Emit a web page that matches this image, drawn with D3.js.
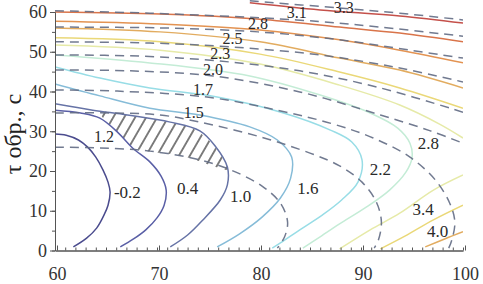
<!DOCTYPE html>
<html><head><meta charset="utf-8">
<script src="https://cdn.jsdelivr.net/npm/d3@7"></script>
<style>body{margin:0;background:#fff}svg{display:block}text{font-family:"Liberation Serif","DejaVu Serif",serif}</style>
</head><body>
<script>
// ---------- data ----------
const xTicks = [60,70,80,90,100];
const yTicks = [0,10,20,30,40,50,60];

// solid contour lines (field 1)
const solidLevels = [-0.2,0.4,1.0,1.6,2.2,2.8,3.4,4.0,4.6,3.4,4.0,4.6,5.2,5.8,6.4];
const sM02 = [[60.0,29.3],[61.1,29.0],[62.3,27.8],[63.2,26.0],[64.0,23.5],[64.7,20.3],[65.2,17.2],[65.4,14.7],[65.2,11.4],[64.8,8.9],[64.1,5.7],[63.1,3.1],[61.8,0.9]];
const s04 = [[60.0,35.3],[62.5,34.6],[64.4,33.3],[66.2,29.6],[67.6,25.8],[69.3,22.3],[70.4,18.7],[70.9,15.2],[70.7,11.4],[70.0,8.2],[68.9,5.2],[67.7,2.9],[66.4,0.9]];
const s10 = [[60.0,36.9],[63.7,35.3],[67.1,34.1],[71.3,32.3],[74.2,30.1],[75.7,26.3],[76.9,21.0],[76.9,16.5],[76.2,12.7],[74.5,7.7],[73.0,3.9],[71.3,0.9]];
const s16 = [[60.0,41.9],[64.4,38.9],[69.3,35.8],[74.2,34.1],[79.1,31.1],[81.8,27.8],[83.2,23.5],[83.1,18.2],[82.1,13.2],[80.3,8.4],[78.1,4.2],[75.9,0.9]];
const s22 = [[60.0,46.2],[64.4,43.4],[69.3,40.9],[75.9,38.6],[82.4,34.6],[87.0,30.3],[89.1,27.3],[90.1,22.8],[89.7,17.2],[88.1,12.7],[86.2,8.9],[84.0,5.2],[82.1,1.9],[81.3,0.6]];
const s28 = [[60.0,49.2],[69.3,47.2],[79.1,43.9],[86.0,39.1],[90.9,34.6],[93.6,30.8],[94.8,27.0],[95.0,23.3],[94.4,19.7],[92.8,15.2],[90.4,10.7],[87.9,6.7],[85.8,3.1],[84.3,0.6]];
const s34b = [[87.9,0.4],[90.9,5.2],[93.8,9.4],[97.1,15.2],[100,19.0]];
const s40b = [[91.9,0.4],[94.3,3.6],[97.1,7.7],[100,11.4]];
const s46b = [[96.3,0.9],[98.2,2.9],[100,4.7]];
const s34t = [[60,51.7],[70.3,50.4],[80.1,46.9],[87.9,41.6],[93.8,36.6],[97.7,31.8],[100,28.3]];
const s40t = [[60,53.5],[70.3,52.5],[80.1,49.4],[87.9,44.9],[93.8,40.9],[100,35.8]];
const s46t = [[60,56.0],[70.3,55.0],[80.1,52.5],[87.9,48.4],[93.8,45.4],[100,40.9]];
const s52t = [[60,57.7],[70.3,57.0],[80.1,55.5],[87.9,53.0],[93.8,50.4],[100,47.2]];
const s58t = [[60,60.0],[70.3,59.5],[80.1,58.2],[87.9,56.2],[93.8,54.7],[100,52.5]];
const s64t = [[79.1,62.3],[86.0,60.5],[93.8,59.0],[100,57.2]];
const solidCurves = [sM02,s04,s10,s16,s22,s28,s34b,s40b,s46b,s34t,s40t,s46t,s52t,s58t,s64t];

// dashed contour lines (field 2)
const d12 = [[60,26.0],[64.4,25.8],[69.3,25.0],[74.2,22.8],[77.2,20.3],[80.3,16.2],[82.1,11.9],[82.8,7.2],[82.5,3.4],[81.8,0.6]];
const d15 = [[60,34.6],[65.4,34.6],[70.3,34.1],[74.2,32.3],[80.1,28.6],[85.0,24.5],[87.9,21.3],[90.1,17.2],[91.5,12.2],[92.0,7.2],[91.7,2.6],[91.3,0.6]];
const d17 = [[60,40.4],[66.1,40.1],[74.9,38.6],[81.8,35.3],[87.3,31.8],[91.2,28.3],[94.8,23.5],[97.3,17.7],[98.7,11.9],[99.2,7.2],[98.9,2.6],[98.6,0.6]];
const d20 = [[60,45.4],[67.4,45.2],[75.5,43.9],[84.0,39.9],[91.9,34.1],[96.8,30.1],[100,27.0]];
const d23 = [[60,49.2],[68.3,48.9],[76.0,47.7],[84.0,45.2],[91.9,40.9],[100,34.8]];
const d25 = [[60,52.5],[69.3,52.2],[77.3,51.2],[86.0,49.2],[93.8,45.9],[100,42.4]];
const d28 = [[60,56.2],[70.3,56.0],[79.9,55.0],[87.9,53.0],[94.8,50.4],[100,48.4]];
const d31 = [[60,60.3],[69.3,59.7],[83.7,58.0],[91.9,56.2],[100,53.9]];
const d33 = [[79.1,62.8],[87.9,61.0],[93.8,59.7],[100,58.0]];
const dashedCurves = [d12,d15,d17,d20,d23,d25,d28,d31,d33];

// hatched region
const hatchRegion = [[64.4,34.8],[67.1,34.1],[69.3,33.3],[71.3,32.3],[73.2,31.1],[74.7,28.6],[75.9,25.3],[76.9,21.0],[76.9,20.3],[75.2,21.5],[73.2,23.3],[71.3,24.3],[69.0,25.0],[67.6,26.0],[66.2,29.6],[64.9,32.8]];

// contour labels
const solidLabelText = ["-0.2","0.4","1.0","1.6","2.2","2.8","3.4","4.0"];
const solidLabelPos = [[67.1,14.5],[73.0,15.5],[78.2,13.5],[84.8,15.5],[91.9,20.5],[96.6,26.8],[96.1,10.4],[97.5,4.9]];
const dashLabelText = ["1.2","1.5","1.7","2.0","2.3","2.5","2.8","3.1","3.3"];
const dashLabelPos = [[64.8,28.6],[73.6,34.8],[74.5,40.4],[75.5,45.6],[76.2,49.6],[77.4,53.3],[79.9,57.1],[83.7,59.8],[88.3,61.1]];

// ---------- drawing ----------
const W = 483, H = 284;
const SERIF = "Liberation Serif, DejaVu Serif, serif";
const svg = d3.select("body").append("svg").attr("width", W).attr("height", H)
  .attr("font-family", SERIF);
const x = d3.scaleLinear().domain([60,100]).range([55,463]);
const y = d3.scaleLinear().domain([0,60]).range([250.5,12]);

const color = d3.scaleLinear()
  .domain([-0.2,0.4,1.0,1.6,2.2,2.8,3.4,4.0,4.6,5.2,5.8,6.4])
  .range(["#4b4c8e","#5a5fa6","#6673a6","#86bcd8","#98dde6","#c4ecd6","#e6eaa8","#ead878","#e2ac60","#e39352","#d9744a","#c4504a"]);

const defs = svg.append("defs");
defs.append("clipPath").attr("id","clip")
  .append("rect").attr("x",55).attr("y",0).attr("width",408).attr("height",250.5);
const pat = defs.append("pattern").attr("id","hatch").attr("patternUnits","userSpaceOnUse")
  .attr("width",9.5).attr("height",9.5).attr("patternTransform","rotate(30)");
pat.append("line").attr("x1",4.75).attr("y1",0).attr("x2",4.75).attr("y2",9.5)
  .attr("stroke","#2b2b2b").attr("stroke-width",1.2);

const line = d3.line().x(d=>x(d[0])).y(d=>y(d[1])).curve(d3.curveCatmullRom.alpha(0.5));
const g = svg.append("g").attr("clip-path","url(#clip)");

g.append("path").datum(hatchRegion)
  .attr("d", d3.line().x(d=>x(d[0])).y(d=>y(d[1])).curve(d3.curveCatmullRomClosed.alpha(0.5)))
  .attr("fill","url(#hatch)").attr("stroke","none");

g.selectAll(".solid").data(solidCurves).join("path")
  .attr("d", line).attr("fill","none")
  .attr("stroke",(d,i)=>color(solidLevels[i]))
  .attr("stroke-width",1.5);

g.selectAll(".dash").data(dashedCurves).join("path")
  .attr("d", line).attr("fill","none")
  .attr("stroke","#626b84").attr("stroke-opacity",0.9)
  .attr("stroke-width",1.5).attr("stroke-dasharray","9,6");

// axes
const xAxis = d3.axisBottom(x).tickValues(xTicks).tickSizeInner(-5).tickSizeOuter(0).tickPadding(17);
const xMinor = d3.axisBottom(x).ticks(40).tickSizeInner(-3).tickSizeOuter(0).tickFormat("");
const yAxis = d3.axisLeft(y).tickValues(yTicks).tickSizeInner(5).tickSizeOuter(0).tickPadding(3);
const yMinor = d3.axisLeft(y).ticks(12).tickSizeInner(3).tickSizeOuter(0).tickFormat("");

function style(sel){
  sel.attr("font-family", SERIF).attr("font-size", 18);
  sel.selectAll("path,line").attr("stroke","#555");
  sel.selectAll("text").attr("fill","#333").attr("font-family", SERIF).attr("font-size", 18);
}
svg.append("g").attr("transform","translate(0,250.5)").call(xMinor).call(style);
svg.append("g").attr("transform","translate(2,250.5)").call(xAxis).call(style)
  .select(".domain").attr("transform","translate(-2,0)");
svg.append("g").attr("transform","translate(55,0)").call(yMinor).call(style);
svg.append("g").attr("transform","translate(55,0)").call(yAxis).call(style);

// contour labels
svg.selectAll(".sl").data(solidLabelText).join("text")
  .attr("x",(d,i)=>x(solidLabelPos[i][0])).attr("y",(d,i)=>y(solidLabelPos[i][1]))
  .attr("text-anchor","middle").attr("dominant-baseline","central")
  .attr("font-family",SERIF).attr("font-size",17).attr("fill","#2a2a2a").text(d=>d);
svg.selectAll(".dl").data(dashLabelText).join("text")
  .attr("x",(d,i)=>x(dashLabelPos[i][0])).attr("y",(d,i)=>y(dashLabelPos[i][1]))
  .attr("text-anchor","middle").attr("dominant-baseline","central")
  .attr("font-family",SERIF).attr("font-size",16).attr("fill","#2a2a2a").text(d=>d);

// y title
svg.append("text").attr("transform","translate(21,134) rotate(-90)")
  .attr("text-anchor","middle")
  .attr("font-family",SERIF).attr("font-size",24).attr("fill","#222")
  .text("τ обр., с");
</script>
</body></html>
